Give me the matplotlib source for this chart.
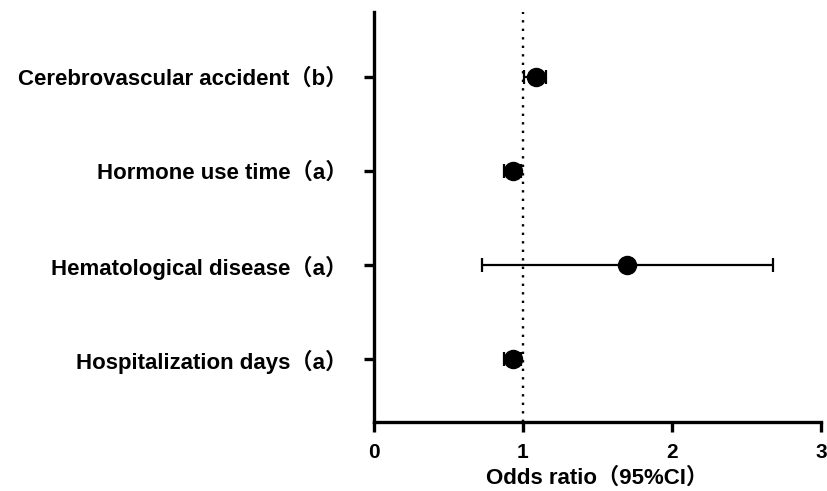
import numpy as np
import matplotlib
matplotlib.use("Agg")
import matplotlib.pyplot as plt

# forest plot values
labels = ["Hospitalization days（a）", "Hematological disease（a）",
          "Hormone use time（a）", "Cerebrovascular accident（b）"]
odds = [0.93, 1.70, 0.93, 1.085]
ci_low = [0.87, 0.725, 0.87, 1.01]
ci_high = [0.99, 2.675, 0.99, 1.155]

plt.rcParams['font.family'] = ['Liberation Sans', 'Noto Sans CJK SC', 'DejaVu Sans']
plt.rcParams['font.weight'] = 'bold'

fig = plt.figure(figsize=(8.27, 4.91), dpi=100)
ax = fig.add_axes([0.4522, 0.1405, 0.5405, 0.8351])

ypos = np.arange(1, len(labels) + 1)
odds = np.array(odds)
err = [odds - np.array(ci_low), np.array(ci_high) - odds]

ax.axvline(1, color='black', linestyle=(0, (1, 2.6)), linewidth=1.7, zorder=1)
ax.errorbar(odds, ypos, xerr=err, fmt='o', color='black', markersize=13,
            elinewidth=1.6, capsize=5, capthick=1.6, zorder=3)

ax.set_xlim(0, 3)
ax.set_ylim(0.33, 4.69)
ax.set_xticks([0, 1, 2, 3])
ax.set_yticks(ypos)
ax.set_yticklabels(labels, fontsize=16)
ax.set_xlabel("Odds ratio（95%CI）", fontsize=16, fontweight='bold', labelpad=4)

for s in ['top', 'right']:
    ax.spines[s].set_visible(False)
for s in ['left', 'bottom']:
    ax.spines[s].set_linewidth(2.4)
ax.tick_params(axis='both', width=2.4, length=7)
ax.tick_params(axis='x', pad=8, labelsize=15)
ax.tick_params(axis='y', pad=12)
for t in ax.get_xticklabels() + ax.get_yticklabels():
    t.set_fontweight('bold')

fig.savefig("out.png", dpi=100)
